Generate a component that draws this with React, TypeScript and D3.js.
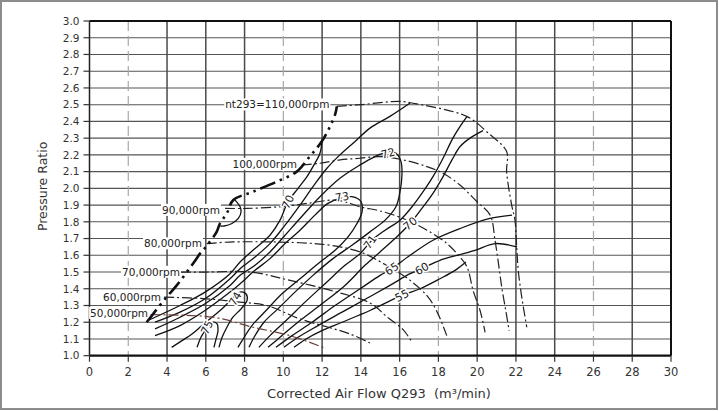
import { useEffect, useRef } from 'react';
import * as d3 from 'd3';

type Pt = [number, number];

// axes
const xTicks = [0, 2, 4, 6, 8, 10, 12, 14, 16, 18, 20, 22, 24, 26, 28, 30];
const yTicks = [1.0, 1.1, 1.2, 1.3, 1.4, 1.5, 1.6, 1.7, 1.8, 1.9, 2.0, 2.1, 2.2, 2.3, 2.4, 2.5, 2.6, 2.7, 2.8, 2.9, 3.0];
const dashedGridX = [2, 10, 18, 26];

// surge line (thick dash-dot-dot)
const surgeLine: Pt[] = [
  [2.95, 1.2], [3.9, 1.34], [4.5, 1.42], [5.4, 1.56], [5.7, 1.61], [6.0, 1.65], [6.56, 1.74], [6.73, 1.79],
  [7.08, 1.85], [7.42, 1.93], [8.44, 1.98], [9.66, 2.04], [10.69, 2.1], [11.29, 2.18], [11.98, 2.28],
  [12.41, 2.37], [12.67, 2.44], [12.76, 2.49],
];

// speed lines
const speed110k: Pt[] = [
  [12.76, 2.49], [13.96, 2.5], [16.02, 2.52], [16.62, 2.51], [19.46, 2.43], [20.57, 2.33], [21.52, 2.22],
  [21.52, 2.1], [21.78, 1.9], [21.95, 1.81], [22.04, 1.65], [22.12, 1.51], [22.3, 1.35], [22.56, 1.17],
];
const speed100k: Pt[] = [
  [10.95, 2.14], [11.89, 2.15], [12.93, 2.17], [13.96, 2.18], [14.99, 2.19], [16.18, 2.17], [17.41, 2.13],
  [18.24, 2.09], [19.11, 2.02], [19.99, 1.92], [20.67, 1.84], [20.92, 1.69], [21.1, 1.55], [21.28, 1.4],
  [21.49, 1.26], [21.65, 1.15],
];
const speed90k: Pt[] = [
  [6.99, 1.88], [8.13, 1.88], [9.83, 1.89], [11.22, 1.91], [12.56, 1.93], [13.18, 1.92], [13.96, 1.89],
  [14.99, 1.865], [16.18, 1.82], [17.41, 1.75], [18.44, 1.67], [19.11, 1.59], [19.48, 1.53], [19.79, 1.39],
  [20.15, 1.27], [20.41, 1.14],
];
const speed80k: Pt[] = [
  [6.05, 1.67], [7.42, 1.68], [10.86, 1.675], [12.41, 1.66], [13.96, 1.62], [15.25, 1.545], [16.54, 1.45],
  [17.47, 1.35], [17.98, 1.25], [18.43, 1.12],
];
const speed70k: Pt[] = [
  [4.72, 1.5], [6.0, 1.5], [8.3, 1.5], [10.35, 1.45], [12.6, 1.385], [14.47, 1.315], [15.34, 1.233],
  [16.19, 1.154], [16.62, 1.084],
];
const speed60k: Pt[] = [
  [3.85, 1.35], [6.05, 1.34], [7.76, 1.32], [9.14, 1.3], [10.86, 1.22], [13.44, 1.13], [14.56, 1.07],
];
const speed50k: Pt[] = [[3.15, 1.245], [6.37, 1.23], [8.44, 1.17], [10.35, 1.12], [12.15, 1.045]];

const speedLabels = ['nt293=110,000rpm', '100,000rpm', '90,000rpm', '80,000rpm', '70,000rpm', '60,000rpm', '50,000rpm'];
const speedLabelX = [12.38, 10.71, 6.73, 5.8, 4.67, 3.69, 3.02];
const speedLabelY = [2.5, 2.145, 1.87, 1.67, 1.5, 1.35, 1.255];

// iso-efficiency lines
const eff75: Pt[] = [
  [5.55, 1.05], [5.75, 1.11], [5.96, 1.15], [6.17, 1.18], [6.37, 1.2], [6.58, 1.19], [6.63, 1.15], [6.53, 1.1], [6.42, 1.05],
];
const eff74: Pt[] = [
  [4.24, 1.05], [4.77, 1.09], [5.29, 1.13], [5.8, 1.18], [6.32, 1.23], [6.84, 1.28], [7.35, 1.34], [7.77, 1.38],
  [8.07, 1.37], [8.13, 1.33], [7.82, 1.28], [7.4, 1.23], [7.09, 1.17], [6.84, 1.11], [6.68, 1.05],
];
const eff73: Pt[] = [
  [3.38, 1.12], [4.67, 1.18], [5.96, 1.27], [7.25, 1.38], [7.77, 1.43], [8.54, 1.51], [9.31, 1.58], [10.09, 1.67],
  [10.86, 1.75], [11.63, 1.84], [12.3, 1.91], [12.92, 1.94], [13.54, 1.95], [14.01, 1.92], [14.06, 1.86],
  [13.8, 1.79], [13.34, 1.71], [12.67, 1.63], [11.79, 1.55], [10.86, 1.46], [9.93, 1.37], [9.11, 1.27],
  [8.38, 1.18], [7.87, 1.09], [7.66, 1.05],
];
const eff72: Pt[] = [
  [3.38, 1.16], [4.67, 1.23], [5.96, 1.31], [7.25, 1.42], [7.77, 1.48], [8.54, 1.54], [9.31, 1.62], [10.09, 1.72],
  [10.86, 1.82], [11.89, 1.95], [12.92, 2.06], [13.96, 2.14], [14.73, 2.19], [15.4, 2.22], [15.81, 2.21],
  [16.07, 2.16], [16.12, 2.08], [16.02, 1.98], [15.81, 1.89], [15.25, 1.81], [14.47, 1.74], [13.54, 1.66],
  [12.56, 1.58], [11.53, 1.48], [10.6, 1.38], [9.72, 1.28], [9.0, 1.2], [8.49, 1.11], [8.23, 1.05],
];
const eff71Left: Pt[] = [
  [3.38, 1.2], [4.67, 1.26], [5.96, 1.34], [7.25, 1.46], [7.77, 1.52], [8.54, 1.59], [9.31, 1.67], [10.09, 1.78],
  [10.86, 1.9], [11.53, 2.01], [12.25, 2.12], [12.92, 2.2], [13.7, 2.28], [14.47, 2.36], [15.5, 2.43], [16.54, 2.51],
];
const eff71Right: Pt[] = [
  [8.74, 1.05], [9.31, 1.12], [10.14, 1.21], [11.12, 1.32], [12.15, 1.43], [13.18, 1.54], [13.96, 1.61],
  [14.57, 1.69], [15.25, 1.75], [16.02, 1.81], [16.64, 1.89], [17.21, 1.98], [17.72, 2.07], [18.24, 2.18],
  [18.7, 2.29], [19.12, 2.37], [19.48, 2.43],
];
const eff70Left: Pt[] = [
  [3.1, 1.215], [4.67, 1.3], [5.96, 1.38], [7.25, 1.49], [7.77, 1.56], [8.54, 1.64], [9.31, 1.72], [9.83, 1.81],
  [10.24, 1.92], [10.76, 2.0], [11.22, 2.07], [11.58, 2.14], [11.89, 2.21], [11.99, 2.28],
];
const eff70Right: Pt[] = [
  [9.21, 1.05], [9.93, 1.12], [10.86, 1.21], [11.99, 1.31], [13.18, 1.42], [14.21, 1.54], [14.99, 1.62],
  [15.76, 1.7], [16.54, 1.79], [17.15, 1.88], [17.72, 1.97], [18.24, 2.07], [18.7, 2.17], [19.12, 2.25],
  [19.63, 2.3], [20.3, 2.345],
];
const eff65: Pt[] = [
  [9.62, 1.05], [10.45, 1.12], [11.48, 1.2], [12.67, 1.3], [13.96, 1.4], [14.99, 1.48], [15.59, 1.52],
  [16.54, 1.6], [17.72, 1.69], [19.12, 1.76], [20.66, 1.82], [21.8, 1.84],
];
const eff60: Pt[] = [
  [10.03, 1.05], [10.76, 1.11], [11.79, 1.18], [13.03, 1.26], [14.27, 1.34], [15.5, 1.42], [16.54, 1.49],
  [17.14, 1.52], [18.08, 1.57], [18.96, 1.6], [19.89, 1.63], [20.92, 1.67], [22.06, 1.65],
];
const eff55: Pt[] = [
  [10.55, 1.05], [11.17, 1.1], [11.99, 1.15], [13.03, 1.2], [14.47, 1.27], [16.11, 1.36], [17.05, 1.4],
  [18.08, 1.46], [18.86, 1.51], [19.42, 1.56],
];
const effHook: Pt[] = [[7.51, 1.93], [7.77, 1.89], [7.82, 1.86], [7.68, 1.82], [7.35, 1.79], [6.95, 1.775], [6.75, 1.775]];

const effLabels = ['75', '74', '73', '72', '71', '70', '70', '65', '60', '55'];
const effLabelX = [6.06, 7.51, 13.03, 15.4, 14.47, 16.54, 10.24, 15.59, 17.14, 16.11];
const effLabelY = [1.17, 1.34, 1.95, 2.21, 1.68, 1.79, 1.92, 1.52, 1.52, 1.36];
const effLabelAngle = [-65, -60, -10, -15, -55, -40, -65, -35, -30, -28];

export default function App() {
  const svgRef = useRef<SVGSVGElement>(null);

  useEffect(() => {
    if (!svgRef.current) return;
    const svg = d3.select(svgRef.current);
    svg.selectAll('*').remove();

    const font = "'DejaVu Sans', sans-serif";
    const x = d3.scaleLinear().domain([0, 30]).range([89.5, 671]);
    const y = d3.scaleLinear().domain([1, 3]).range([355.7, 21]);

    // picture frame
    svg.append('rect')
      .attr('x', 1).attr('y', 1).attr('width', 716).attr('height', 408)
      .attr('fill', '#fff').attr('stroke', '#8c8c8c').attr('stroke-width', 2);

    // grid
    svg.append('g')
      .selectAll('line')
      .data(yTicks.filter((v) => v > 1.01 && v < 2.99))
      .enter()
      .append('line')
      .attr('x1', x(0)).attr('x2', x(30))
      .attr('y1', (d) => y(d)).attr('y2', (d) => y(d))
      .attr('stroke', '#555').attr('stroke-width', 1.1);

    svg.append('g')
      .selectAll('line')
      .data(xTicks.filter((v) => v > 0 && v < 30))
      .enter()
      .append('line')
      .attr('x1', (d) => x(d)).attr('x2', (d) => x(d))
      .attr('y1', y(3)).attr('y2', y(1))
      .attr('stroke', (d) => (dashedGridX.includes(d) ? '#a8a8a8' : '#4a4a4a'))
      .attr('stroke-width', (d) => (dashedGridX.includes(d) ? 1.2 : 1.5))
      .attr('stroke-dasharray', (d) => (dashedGridX.includes(d) ? '10 5' : null));

    // plot frame
    svg.append('line').attr('x1', x(0)).attr('x2', x(30)).attr('y1', y(3)).attr('y2', y(3))
      .attr('stroke', '#111').attr('stroke-width', 2);
    svg.append('line').attr('x1', x(30)).attr('x2', x(30)).attr('y1', y(3)).attr('y2', y(1))
      .attr('stroke', '#111').attr('stroke-width', 2);
    svg.append('line').attr('x1', x(0)).attr('x2', x(0)).attr('y1', y(3)).attr('y2', y(1))
      .attr('stroke', '#222').attr('stroke-width', 1.5);
    svg.append('line').attr('x1', x(0)).attr('x2', x(30)).attr('y1', y(1)).attr('y2', y(1))
      .attr('stroke', '#111').attr('stroke-width', 2.2);

    // ticks
    svg.append('g').selectAll('line').data(yTicks).enter().append('line')
      .attr('x1', x(0) - 6).attr('x2', x(0))
      .attr('y1', (d) => y(d)).attr('y2', (d) => y(d))
      .attr('stroke', '#333').attr('stroke-width', 1.2);
    svg.append('g').selectAll('line').data(xTicks).enter().append('line')
      .attr('x1', (d) => x(d)).attr('x2', (d) => x(d))
      .attr('y1', y(1)).attr('y2', y(1) + 6)
      .attr('stroke', '#333').attr('stroke-width', 1.2);

    svg.append('g').selectAll('text').data(yTicks).enter().append('text')
      .attr('x', x(0) - 10).attr('y', (d) => y(d))
      .attr('dy', '0.36em').attr('text-anchor', 'end')
      .attr('font-family', font).attr('font-size', 10.5).attr('fill', '#333')
      .text((d) => d.toFixed(1));
    svg.append('g').selectAll('text').data(xTicks).enter().append('text')
      .attr('x', (d) => x(d)).attr('y', y(1) + 16)
      .attr('dy', '0.36em').attr('text-anchor', 'middle')
      .attr('font-family', font).attr('font-size', 11.5).attr('fill', '#333')
      .text((d) => String(d));

    // axis titles
    svg.append('text')
      .attr('transform', `translate(42,${(y(1) + y(3)) / 2 - 2}) rotate(-90)`)
      .attr('text-anchor', 'middle').attr('dy', '0.36em')
      .attr('font-family', font).attr('font-size', 12.5).attr('fill', '#333')
      .text('Pressure Ratio');
    svg.append('text')
      .attr('x', 379).attr('y', 393).attr('dy', '0.36em')
      .attr('text-anchor', 'middle').style('white-space', 'pre')
      .attr('font-family', font).attr('font-size', 13).attr('fill', '#333')
      .text('Corrected Air Flow Q293  (m³/min)');

    // speed labels on white backing
    const lg = svg.append('g');
    speedLabels.forEach((t, i) => {
      const txt = lg.append('text')
        .attr('x', x(speedLabelX[i])).attr('y', y(speedLabelY[i]))
        .attr('dy', '0.36em').attr('text-anchor', 'end')
        .attr('font-family', font).attr('font-size', 10.5).attr('fill', '#222')
        .text(t);
      const bb = (txt.node() as SVGTextElement).getBBox();
      lg.insert('rect', 'text')
        .attr('x', bb.x - 1).attr('y', bb.y).attr('width', bb.width + 2).attr('height', bb.height)
        .attr('fill', '#fff');
    });

    const line = d3.line<Pt>()
      .x((d) => x(d[0]))
      .y((d) => y(d[1]))
      .curve(d3.curveCatmullRom.alpha(0.5));

    // efficiency contours
    const effLines = [eff75, eff74, eff73, eff72, eff71Left, eff71Right, eff70Left, eff70Right, eff65, eff60, eff55, effHook];
    svg.append('g').selectAll('path').data(effLines).enter().append('path')
      .attr('d', (d) => line(d))
      .attr('fill', 'none').attr('stroke', '#111').attr('stroke-width', 1.3)
      .attr('stroke-linejoin', 'round');

    // speed lines
    const speedLines = [speed110k, speed100k, speed90k, speed80k, speed70k, speed60k, speed50k];
    svg.append('g').selectAll('path').data(speedLines).enter().append('path')
      .attr('d', (d) => line(d))
      .attr('fill', 'none')
      .attr('stroke', (_, i) => (i === 6 ? '#6a4038' : '#222'))
      .attr('stroke-width', 1.2)
      .attr('stroke-dasharray', '10 3 2 3');

    // surge
    svg.append('path')
      .attr('d', line(surgeLine))
      .attr('fill', 'none').attr('stroke', '#111').attr('stroke-width', 2.6)
      .attr('stroke-dasharray', '16 5 2.5 5 2.5 5');

    // efficiency labels
    svg.append('g').selectAll('text').data(effLabels).enter().append('text')
      .attr('transform', (_, i) => `translate(${x(effLabelX[i])},${y(effLabelY[i])}) rotate(${effLabelAngle[i]})`)
      .attr('text-anchor', 'middle').attr('dy', '0.36em')
      .attr('font-family', font).attr('font-size', 11).attr('fill', '#222')
      .attr('stroke', '#fff').attr('stroke-width', 3).attr('paint-order', 'stroke')
      .text((d) => d);
  }, []);

  return (
    <svg
      ref={svgRef}
      width={719}
      height={411}
      style={{ position: 'absolute', left: 0, top: 0, background: '#fff' }}
    />
  );
}
